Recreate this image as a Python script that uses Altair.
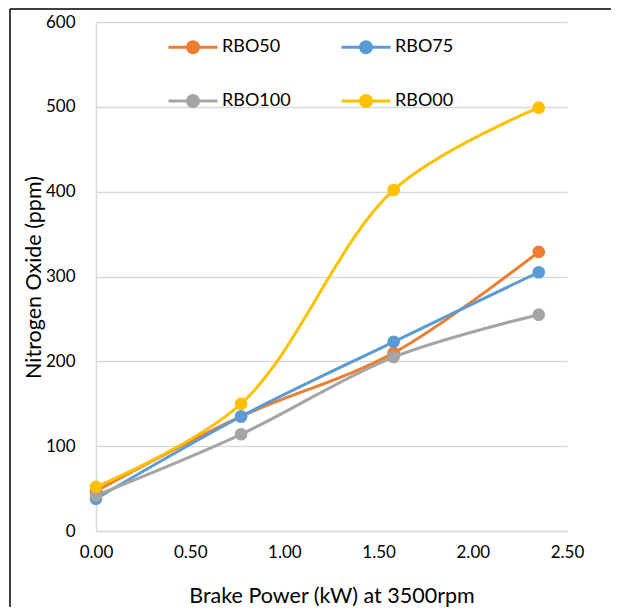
import altair as alt
import pandas as pd

# ---- data ----
brake_power = [0.00, 0.77, 1.58, 2.35]
series_names = ["RBO50", "RBO75", "RBO100", "RBO00"]
rbo50 = [47, 135, 210, 329]
rbo75 = [38, 135, 223, 305]
rbo100 = [42, 114, 205, 255]
rbo00 = [52, 150, 402, 499]
series_colors = ["#ED7D31", "#5B9BD5", "#A5A5A5", "#FFC000"]
x_ticks = [0, 0.5, 1.0, 1.5, 2.0, 2.5]
y_ticks = [0, 100, 200, 300, 400, 500, 600]

rows = []
for name, vals in zip(series_names, [rbo50, rbo75, rbo100, rbo00]):
    for i, (xv, yv) in enumerate(zip(brake_power, vals)):
        rows.append({"series": name, "x": xv, "y": yv, "order": i})
df = pd.DataFrame(rows)

FONT = "Lato"
W, H = 471, 509
LABEL_SIZE = 17
TITLE_SIZE = 21.5


def ring(r):
    return f"M-{r},0A{r},{r},0,1,1,{r},0A{r},{r},0,1,1,-{r},0Z"


# legend symbol: a line with a (stroked, concentric-ring) dot in the middle
legend_path = "M-1,0L1,0" + ring(0.224) + ring(0.122) + ring(0.04)

stroke_enc = alt.Stroke(
    "series:N",
    scale=alt.Scale(domain=series_names, range=series_colors),
    sort=series_names,
    legend=alt.Legend(
        orient="none", legendX=71, legendY=-1, columns=2, direction="horizontal",
        title=None, symbolType=legend_path, symbolSize=2401, symbolStrokeWidth=3,
        labelFont=FONT, labelFontSize=18, labelColor="#000000",
        labelOffset=3, columnPadding=44, rowPadding=16, padding=0,
    ),
)
fill_enc = alt.Fill(
    "series:N",
    scale=alt.Scale(domain=series_names, range=series_colors),
    legend=None,
)

x = alt.X(
    "x:Q",
    scale=alt.Scale(domain=[0, 2.5], nice=False, zero=False),
    axis=alt.Axis(
        values=x_ticks, format=".2f", grid=False, ticks=False, labelFlush=False,
        domainColor="#D9D9D9", domainWidth=1.5,
        labelFont=FONT, labelFontSize=LABEL_SIZE, labelColor="#000000", labelPadding=13,
        title="Brake Power (kW) at 3500rpm", titleFont=FONT, titleFontSize=TITLE_SIZE,
        titleFontWeight="normal", titleColor="#000000",
        titleY=71, titleBaseline="alphabetic",
    ),
)
y = alt.Y(
    "y:Q",
    scale=alt.Scale(domain=[0, 600], nice=False),
    axis=alt.Axis(
        values=y_ticks, grid=True, gridColor="#D9D9D9", gridWidth=1.5,
        ticks=False, domainColor="#D9D9D9", domainWidth=1.5, labelFlush=False,
        labelFont=FONT, labelFontSize=LABEL_SIZE, labelColor="#000000", labelPadding=21,
        title="Nitrogen Oxide (ppm)", titleFont=FONT, titleFontSize=TITLE_SIZE,
        titleFontWeight="normal", titleColor="#000000",
        titleX=-56, titleY=255, titleBaseline="alphabetic",
    ),
)

base = alt.Chart(df)
lines = base.mark_line(interpolate="catmull-rom", strokeWidth=3).encode(
    x=x, y=y, stroke=stroke_enc, order="order:Q", detail="series:N"
)
points = base.mark_point(filled=True, size=160, opacity=1, strokeWidth=0).encode(
    x=x, y=y, fill=fill_enc
)

frame_data = alt.Data(values=[{"k": 1}])
frame_left = alt.Chart(frame_data).mark_rule(color="#000000", strokeWidth=1.5).encode(
    x=alt.value(-86), y=alt.value(-13), y2=alt.value(620)
)
frame_top = alt.Chart(frame_data).mark_rule(color="#000000", strokeWidth=1.5).encode(
    x=alt.value(-86), x2=alt.value(600), y=alt.value(-13)
)

chart = alt.layer(lines, points, frame_left, frame_top).properties(
    width=W, height=H,
    autosize=alt.AutoSizeParams(type="none"),
    padding={"left": 88, "top": 14, "right": 44, "bottom": 76},
    background="white",
).configure_view(stroke=None)

chart.save("out.html", embed_options={"renderer": "svg", "actions": False})
